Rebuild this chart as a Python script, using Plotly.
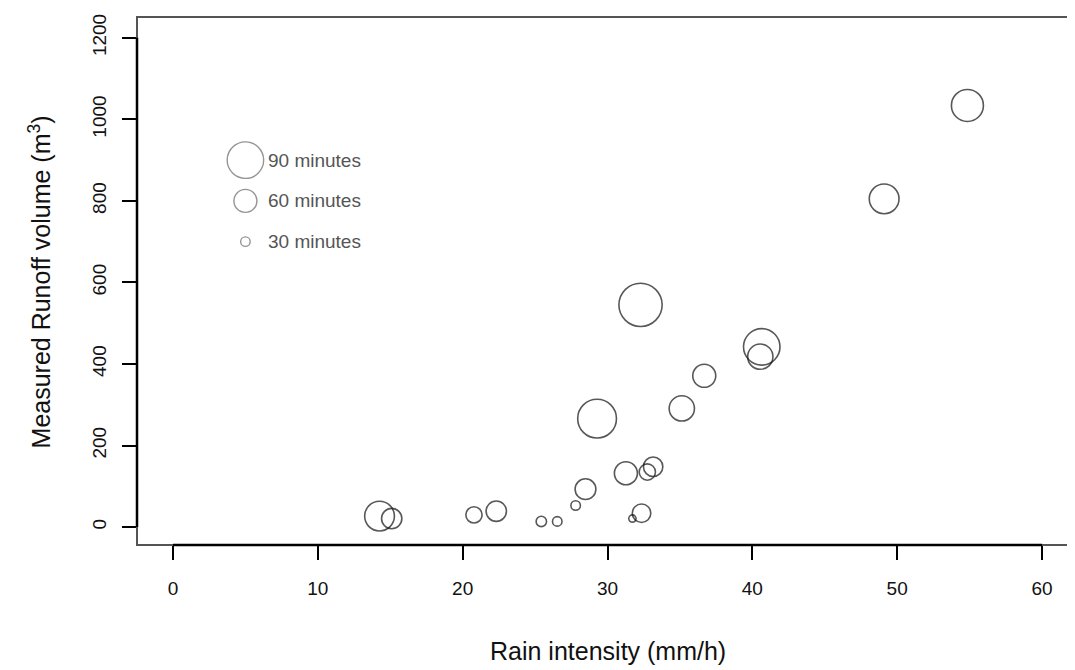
import plotly.graph_objects as go

# Data
rain_intensity = [54.85, 49.1, 32.28, 40.65, 40.55, 36.68, 35.13, 29.28, 33.15, 32.75,
                  31.27, 28.48, 27.8, 32.35, 31.72, 25.43, 26.53, 22.32, 20.78, 14.26, 15.1]
runoff_volume = [1034, 805, 545, 442, 418, 371, 291, 266, 148, 135,
                 132, 93, 53, 34, 21, 14, 14, 39, 30, 27, 21]
duration_min = [80, 75, 105, 90, 65, 60, 65, 95, 52, 45,
                60, 55, 30, 50, 25, 32, 30, 54, 45, 75, 54]

legend_durations = [90, 60, 30]
legend_labels = ["90 minutes", "60 minutes", "30 minutes"]
legend_x = [5, 5, 5]
legend_y = [900, 800, 700]

x_ticks = [0, 10, 20, 30, 40, 50, 60]
y_ticks = [0, 200, 400, 600, 800, 1000, 1200]

FONT = "Liberation Sans, Arial, sans-serif"

# page body has an 8px offset; plot area in figure coordinates
L, T = 129, 6
PW, PH = 936, 531
W, H = 1075, 670


def msize(d):
    return 0.45 * d - 4


fig = go.Figure()

fig.add_trace(go.Scatter(
    x=rain_intensity, y=runoff_volume, mode="markers",
    marker=dict(symbol="circle-open", size=[msize(d) for d in duration_min],
                color="#111111", line=dict(width=1.6, color="#111111")),
    hoverinfo="x+y", showlegend=False))

fig.add_trace(go.Scatter(
    x=legend_x, y=legend_y, mode="markers",
    marker=dict(symbol="circle-open", size=[msize(d) for d in legend_durations],
                color="#666666", line=dict(width=1.4, color="#666666")),
    hoverinfo="skip", showlegend=False))

for lx, ly, lab in zip(legend_x, legend_y, legend_labels):
    fig.add_annotation(x=lx, y=ly, xref="x", yref="y", text=lab, showarrow=False,
                       xanchor="left", yanchor="middle", xshift=21,
                       font=dict(family=FONT, size=19, color="#555555"))

# frame box
fig.add_shape(type="rect", xref="x domain", yref="y domain", x0=0, x1=1, y0=0, y1=1,
              line=dict(color="#555555", width=2), layer="above")
# axis lines (from first to last tick)
fig.add_shape(type="line", xref="x", yref="y domain", x0=x_ticks[0], x1=x_ticks[-1], y0=0, y1=0,
              line=dict(color="black", width=2.5), layer="above")
fig.add_shape(type="line", xref="x domain", yref="y", x0=0, x1=0, y0=y_ticks[0], y1=y_ticks[-1],
              line=dict(color="black", width=2.5), layer="above")

fig.add_annotation(x=30, y=-(644 - (T + PH)) / PH, xref="x", yref="paper",
                   text="Rain intensity (mm/h)", showarrow=False, xanchor="center", yanchor="middle",
                   font=dict(family=FONT, size=25, color="#111111"))
fig.add_annotation(x=(32 - L) / PW, y=600, xref="paper", yref="y",
                   text="Measured Runoff volume (m<sup>3</sup>)", showarrow=False, textangle=-90,
                   xanchor="center", yanchor="middle",
                   font=dict(family=FONT, size=25, color="#111111"))

fig.update_layout(
    width=W, height=H,
    margin=dict(l=L, r=W - L - PW, t=T, b=H - T - PH),
    plot_bgcolor="white", paper_bgcolor="white",
    font=dict(family=FONT, color="#111111"),
    xaxis=dict(range=[-2.486, 62.14], tickvals=x_ticks, ticks="outside", ticklen=14,
               tickwidth=1.5, tickcolor="black", showgrid=False, zeroline=False, showline=False,
               tickfont=dict(family=FONT, size=19, color="#111111"), ticklabelstandoff=12),
    yaxis=dict(range=[-43.9, 1251], tickvals=y_ticks, ticks="outside", ticklen=14,
               tickwidth=1.5, tickcolor="black", showgrid=False, zeroline=False, showline=False,
               tickangle=-90, tickfont=dict(family=FONT, size=19, color="#111111"),
               ticklabelstandoff=8),
)

fig.write_html("out.html")
